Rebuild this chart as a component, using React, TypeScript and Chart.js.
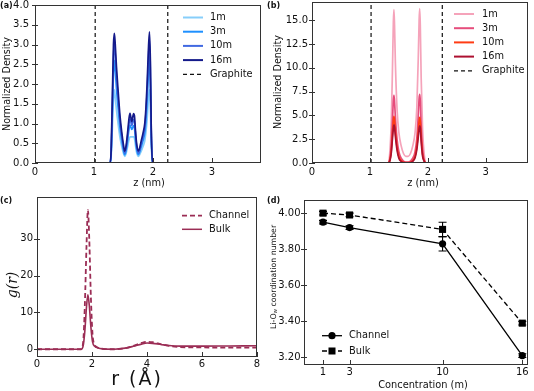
import React, { useEffect, useRef } from "react";
import { Chart, registerables } from "chart.js";

Chart.register(...registerables);

const FONT = "'DejaVu Sans', sans-serif";
const TXT = "#111";
const AXIS = "#333";

// ===== Panel (a): Li density across the channel (nm, normalized) =====
const zA = [0, 1.27, 1.29, 1.31, 1.33, 1.345, 1.36, 1.38, 1.41, 1.44, 1.47, 1.5, 1.52, 1.54, 1.57, 1.595, 1.61, 1.64, 1.67, 1.685, 1.7, 1.72, 1.75, 1.77, 1.8, 1.83, 1.86, 1.88, 1.9, 1.92, 1.94, 1.955, 1.97, 1.99, 3.3];
const a1m = [0, 0, 0.15, 0.85, 1.6, 1.85, 1.68, 1.35, 0.98, 0.65, 0.42, 0.24, 0.17, 0.22, 0.42, 0.6, 0.66, 0.66, 0.66, 0.63, 0.48, 0.28, 0.17, 0.2, 0.3, 0.42, 0.56, 0.78, 1.1, 1.55, 1.85, 1.45, 0.5, 0, 0];
const a3m = [0, 0, 0.22, 1.2, 2.3, 2.6, 2.35, 1.9, 1.38, 0.9, 0.58, 0.32, 0.21, 0.29, 0.58, 0.88, 0.96, 0.85, 0.95, 0.9, 0.66, 0.38, 0.21, 0.26, 0.41, 0.56, 0.76, 1.08, 1.55, 2.2, 2.62, 2.0, 0.7, 0, 0];
const a10m = [0, 0, 0.25, 1.4, 2.7, 3.05, 2.75, 2.2, 1.6, 1.05, 0.68, 0.38, 0.25, 0.34, 0.68, 1.02, 1.12, 0.95, 1.1, 1.06, 0.78, 0.45, 0.25, 0.3, 0.48, 0.65, 0.88, 1.25, 1.8, 2.55, 3.1, 2.4, 0.85, 0, 0];
const a16m = [0, 0, 0.3, 1.6, 3.0, 3.28, 3.0, 2.45, 1.8, 1.2, 0.78, 0.45, 0.3, 0.4, 0.78, 1.15, 1.26, 1.05, 1.25, 1.2, 0.88, 0.52, 0.3, 0.36, 0.56, 0.75, 1.0, 1.4, 2.0, 2.8, 3.32, 2.6, 0.9, 0, 0];
const concNames = ["1m", "3m", "10m", "16m"];
const colorsA = ["#87cefa", "#1e90ff", "#4169e1", "#141a8a"];

// ===== Panel (b) =====
const zB = [0, 1.31, 1.34, 1.37, 1.39, 1.405, 1.415, 1.425, 1.44, 1.47, 1.5, 1.54, 1.58, 1.62, 1.66, 1.7, 1.74, 1.78, 1.81, 1.835, 1.85, 1.86, 1.87, 1.885, 1.91, 1.94, 1.97, 3.3];
const b1m = [0, 0, 0.8, 4.5, 10, 14.8, 16.1, 14.5, 10.5, 5.5, 3.2, 1.8, 1.0, 0.7, 0.7, 1.0, 1.8, 3.2, 5.8, 11, 15, 16.2, 14.5, 9, 3.5, 0.8, 0, 0];
const b3m = [0, 0, 0.3, 2.0, 4.5, 6.6, 7.1, 6.5, 4.8, 2.4, 1.2, 0.5, 0.2, 0.1, 0.1, 0.2, 0.5, 1.2, 2.6, 5.0, 6.8, 7.2, 6.5, 4.0, 1.4, 0.3, 0, 0];
const b10m = [0, 0, 0.2, 1.4, 3.2, 4.5, 4.9, 4.5, 3.3, 1.6, 0.7, 0.25, 0.08, 0.03, 0.03, 0.08, 0.25, 0.7, 1.7, 3.3, 4.5, 4.8, 4.4, 2.8, 0.9, 0.2, 0, 0];
const b16m = [0, 0, 0.15, 1.1, 2.6, 3.6, 4.0, 3.8, 2.8, 1.3, 0.5, 0.15, 0.04, 0.02, 0.02, 0.05, 0.18, 0.55, 1.4, 2.7, 3.6, 3.9, 3.7, 2.3, 0.7, 0.15, 0, 0];
const colorsB = ["#f5a3ba", "#e64d7c", "#ff3c14", "#ad1030"];

const graphiteZ = [1.02, 2.25];
const zTicks = [0, 1, 2, 3];
const yTicksA = [0, 0.5, 1, 1.5, 2, 2.5, 3, 3.5, 4];
const yTicksB = [0, 2.5, 5, 7.5, 10, 12.5, 15];

// ===== Panel (c): g(r) =====
const rC = [0, 1.6, 1.68, 1.74, 1.8, 1.85, 1.9, 1.96, 2.02, 2.1, 2.2, 2.4, 2.8, 3.2, 3.5, 3.8, 4.0, 4.2, 4.5, 4.8, 5.2, 6, 7, 8];
const gChannel = [0, 0, 2, 12, 28, 37.8, 30, 14, 4, 1.2, 0.5, 0.1, 0, 0.3, 0.9, 1.7, 2.0, 1.9, 1.4, 0.9, 0.6, 0.5, 0.45, 0.45];
const gBulk = [0, 0, 1, 5, 11.5, 14.8, 12, 6, 2, 0.8, 0.4, 0.1, 0, 0.3, 0.8, 1.4, 1.7, 1.6, 1.3, 1.0, 0.85, 0.85, 0.9, 0.95];
const rTicks = [0, 2, 4, 6, 8];
const gTicks = [0, 10, 20, 30];
const colorC = "#9b2d55";

// ===== Panel (d): coordination number =====
const conc = [1, 3, 10, 16];
const cnChannel = [3.95, 3.92, 3.83, 3.21];
const cnChannelErr = [0.01, 0.01, 0.04, 0.01];
const cnBulk = [4.0, 3.99, 3.91, 3.39];
const cnBulkErr = [0.01, 0.01, 0.04, 0.01];
const cnTicks = [3.2, 3.4, 3.6, 3.8, 4.0];

const pts = (xs: number[], ys: number[]) => xs.map((x, i) => ({ x, y: ys[i] }));
const graphiteData = (y0: number, y1: number) =>
  graphiteZ.flatMap((z, i) => {
    const seg = [{ x: z, y: y0 }, { x: z, y: y1 }];
    return i ? [{ x: (graphiteZ[i - 1] + z) / 2, y: null as any }, ...seg] : seg;
  });

function txt(ctx: CanvasRenderingContext2D, s: string, x: number, y: number, font: string, rot = 0, align: CanvasTextAlign = "center", spacing = "0px") {
  ctx.save();
  ctx.translate(x, y);
  ctx.rotate(rot);
  ctx.font = font;
  (ctx as any).letterSpacing = spacing;
  ctx.fillStyle = TXT;
  ctx.textAlign = align;
  ctx.textBaseline = "middle";
  ctx.fillText(s, 0, 0);
  ctx.restore();
}

type Item = { label: string; color: string; dash?: number[]; width: number; marker?: string };
type Leg = { items: Item[]; x0: number; x1: number; tx: number; y0: number; dy: number };

function drawLegend(ctx: CanvasRenderingContext2D, L: Leg) {
  L.items.forEach((it, i) => {
    const y = L.y0 + i * L.dy;
    ctx.save();
    ctx.strokeStyle = it.color;
    ctx.lineWidth = it.width;
    ctx.setLineDash(it.dash || []);
    ctx.beginPath();
    ctx.moveTo(L.x0, y);
    ctx.lineTo(L.x1, y);
    ctx.stroke();
    ctx.setLineDash([]);
    const mx = (L.x0 + L.x1) / 2;
    ctx.fillStyle = it.color;
    if (it.marker === "circle") {
      ctx.beginPath();
      ctx.arc(mx, y, 3.6, 0, Math.PI * 2);
      ctx.fill();
    } else if (it.marker === "rect") {
      ctx.fillRect(mx - 3.5, y - 3.5, 7, 7);
    }
    ctx.restore();
    txt(ctx, it.label, L.tx, y, `9.8px ${FONT}`, 0, "left");
  });
}

type Spec = {
  id: string;
  left: number; top: number; W: number; H: number;
  area: { l: number; t: number; r: number; b: number };
  x: { min: number; max: number; ticks: number[]; fmt: (v: number) => string; pad: number };
  y: { min: number; max: number; ticks: number[]; fmt: (v: number) => string; pad: number };
  datasets: any[];
  legend: Leg;
  panel: string;
  titles: (ctx: CanvasRenderingContext2D) => void;
  errors?: { ds: number; vals: number[]; errs: number[] }[];
};

function decor(spec: Spec) {
  return {
    id: "decor" + spec.id,
    afterDatasetsDraw(chart: any) {
      if (!spec.errors) return;
      const { ctx, scales } = chart;
      const xs = scales.x, ys = scales.y;
      ctx.save();
      ctx.strokeStyle = "#000";
      ctx.lineWidth = 1.1;
      spec.errors.forEach((e) => {
        e.vals.forEach((v, i) => {
          const px = xs.getPixelForValue(conc[i]);
          const pt = ys.getPixelForValue(v + e.errs[i]);
          const pb = ys.getPixelForValue(v - e.errs[i]);
          ctx.beginPath();
          ctx.moveTo(px, pt); ctx.lineTo(px, pb);
          ctx.moveTo(px - 4, pt); ctx.lineTo(px + 4, pt);
          ctx.moveTo(px - 4, pb); ctx.lineTo(px + 4, pb);
          ctx.stroke();
        });
      });
      ctx.restore();
    },
    afterDraw(chart: any) {
      const { ctx, chartArea: a, scales } = chart;
      ctx.save();
      ctx.strokeStyle = AXIS;
      ctx.lineWidth = 1;
      ctx.strokeRect(Math.round(a.left) + 0.5, Math.round(a.top) + 0.5, Math.round(a.right - a.left) - 1, Math.round(a.bottom - a.top) - 1);
      ctx.beginPath();
      scales.x.ticks.forEach((t: any) => {
        const px = Math.round(scales.x.getPixelForValue(t.value)) + 0.5;
        ctx.moveTo(px, a.bottom);
        ctx.lineTo(px, a.bottom - 5);
      });
      scales.y.ticks.forEach((t: any) => {
        const py = Math.round(scales.y.getPixelForValue(t.value)) + 0.5;
        ctx.moveTo(a.left - 3, py);
        ctx.lineTo(a.left + 3, py);
      });
      ctx.stroke();
      ctx.restore();
      txt(ctx, spec.panel, 0, 6, `bold 8px ${FONT}`, 0, "left");
      spec.titles(ctx);
      drawLegend(ctx, spec.legend);
    },
  };
}

function buildConfig(spec: Spec): any {
  const { W, H, area: A } = spec;
  const tickFont = { family: FONT, size: 10 };
  return {
    type: "line",
    data: { datasets: spec.datasets },
    options: {
      responsive: false,
      animation: false,
      devicePixelRatio: 1,
      layout: { padding: { left: 0, top: A.t, right: W - A.r, bottom: 0 } },
      plugins: { legend: { display: false }, tooltip: { enabled: false }, title: { display: false } },
      elements: { point: { radius: 0 }, line: { borderWidth: 1.6 } },
      scales: {
        x: {
          type: "linear", min: spec.x.min, max: spec.x.max,
          grid: { display: false, drawTicks: false }, border: { display: false },
          ticks: { padding: spec.x.pad, font: tickFont, color: TXT, maxRotation: 0, autoSkip: false, callback: (v: any) => spec.x.fmt(Number(v)) },
          afterBuildTicks: (s: any) => { s.ticks = spec.x.ticks.map((v) => ({ value: v })); },
          afterFit: (s: any) => { s.height = H - A.b; s.paddingLeft = 0; s.paddingRight = 0; },
        },
        y: {
          type: "linear", min: spec.y.min, max: spec.y.max,
          grid: { display: false, drawTicks: false }, border: { display: false },
          ticks: { padding: spec.y.pad, font: tickFont, color: TXT, autoSkip: false, callback: (v: any) => spec.y.fmt(Number(v)) },
          afterBuildTicks: (s: any) => { s.ticks = spec.y.ticks.map((v) => ({ value: v })); },
          afterFit: (s: any) => { s.width = A.l; s.paddingTop = 0; s.paddingBottom = 0; },
        },
      },
    },
    plugins: [decor(spec)],
  };
}

const curve = (xs: number[], ys: number[], color: string, order: number, extra: any = {}) => ({
  data: pts(xs, ys), borderColor: color, backgroundColor: color, borderWidth: 1.7,
  cubicInterpolationMode: "monotone", pointRadius: 0, fill: false, order, ...extra,
});
const graphiteDs = (y0: number, y1: number) => ({
  data: graphiteData(y0, y1), borderColor: "#111", borderWidth: 1.2, borderDash: [4, 3], pointRadius: 0, spanGaps: false, order: 10,
});

const f0 = (v: number) => String(v);
const f1 = (v: number) => v.toFixed(1);
const f2 = (v: number) => v.toFixed(2);

const dens = [a1m, a3m, a10m, a16m];
const densB = [b1m, b3m, b10m, b16m];

const specA: Spec = {
  id: "a", left: 0, top: 0, W: 267, H: 195,
  area: { l: 35, t: 5, r: 261, b: 163 },
  x: { min: 0, max: 3.83, ticks: zTicks, fmt: f0, pad: 3.3 },
  y: { min: 0, max: 4, ticks: yTicksA, fmt: f1, pad: 6 },
  datasets: [graphiteDs(0, 4), ...dens.map((d, i) => curve(zA, d, colorsA[i], 4 - i))],
  legend: {
    items: [...concNames.map((n, i) => ({ label: n, color: colorsA[i], width: 2 })), { label: "Graphite", color: "#111", width: 1.2, dash: [4, 3] }],
    x0: 183, x1: 203, tx: 210, y0: 17.5, dy: 14.2,
  },
  panel: "(a)",
  titles: (ctx) => {
    txt(ctx, "Normalized Density", 7.5, 84, `9.6px ${FONT}`, -Math.PI / 2);
    txt(ctx, "z (nm)", 149, 183, `9.8px ${FONT}`);
  },
};

const specB: Spec = {
  id: "b", left: 267, top: 0, W: 267, H: 195,
  area: { l: 45, t: 2, r: 261, b: 163 },
  x: { min: 0, max: 3.73, ticks: zTicks, fmt: f0, pad: 3.3 },
  y: { min: 0, max: 16.9, ticks: yTicksB, fmt: f1, pad: 4 },
  datasets: [graphiteDs(0, 16.9), ...densB.map((d, i) => curve(zB, d, colorsB[i], 4 - i))],
  legend: {
    items: [...concNames.map((n, i) => ({ label: n, color: colorsB[i], width: 2 })), { label: "Graphite", color: "#111", width: 1.2, dash: [4, 3] }],
    x0: 187, x1: 207, tx: 215, y0: 14, dy: 14.2,
  },
  panel: "(b)",
  titles: (ctx) => {
    txt(ctx, "Normalized Density", 11.5, 82, `9.6px ${FONT}`, -Math.PI / 2);
    txt(ctx, "z (nm)", 156, 183, `9.8px ${FONT}`);
  },
};

const specC: Spec = {
  id: "c", left: 0, top: 195, W: 267, H: 196,
  area: { l: 37, t: 2, r: 257, b: 162 },
  x: { min: 0, max: 8, ticks: rTicks, fmt: f0, pad: 1 },
  y: { min: -2.1, max: 41.3, ticks: gTicks, fmt: f0, pad: 4 },
  datasets: [
    curve(rC, gChannel, colorC, 2, { borderDash: [5, 3], borderWidth: 1.8 }),
    curve(rC, gBulk, colorC, 1, { borderWidth: 1.6 }),
  ],
  legend: {
    items: [
      { label: "Channel", color: colorC, width: 1.7, dash: [5, 3] },
      { label: "Bulk", color: colorC, width: 1.5 },
    ],
    x0: 182, x1: 202, tx: 209, y0: 20.7, dy: 13.6,
  },
  panel: "(c)",
  titles: (ctx) => {
    txt(ctx, "g(r)", 13, 90, `italic 14px 'DejaVu Serif', serif`, -Math.PI / 2);
    txt(ctx, "r (Å)", 137, 185, `19px ${FONT}`, 0, "center", "2px");
  },
};

const specD: Spec = {
  id: "d", left: 267, top: 195, W: 267, H: 196,
  area: { l: 37, t: 4, r: 261, b: 170 },
  x: { min: -0.43, max: 16.43, ticks: conc, fmt: f0, pad: 1.5 },
  y: { min: 3.158, max: 4.073, ticks: cnTicks, fmt: f2, pad: 3.5 },
  datasets: [
    { data: pts(conc, cnChannel), borderColor: "#000", backgroundColor: "#000", borderWidth: 1.3, pointStyle: "circle", pointRadius: 3.6, pointBorderWidth: 0, order: 2 },
    { data: pts(conc, cnBulk), borderColor: "#000", backgroundColor: "#000", borderWidth: 1.3, borderDash: [5, 3], pointStyle: "rect", pointRadius: 5, pointBorderWidth: 0, order: 1 },
  ],
  errors: [
    { ds: 0, vals: cnChannel, errs: cnChannelErr },
    { ds: 1, vals: cnBulk, errs: cnBulkErr },
  ],
  legend: {
    items: [
      { label: "Channel", color: "#000", width: 1.3, marker: "circle" },
      { label: "Bulk", color: "#000", width: 1.3, dash: [5, 3], marker: "rect" },
    ],
    x0: 55, x1: 75, tx: 82, y0: 140.7, dy: 15.3,
  },
  panel: "(d)",
  titles: (ctx) => {
    // Li-O_w coordination number (rotated, with subscript)
    ctx.save();
    ctx.translate(6.5, 82);
    ctx.rotate(-Math.PI / 2);
    ctx.fillStyle = TXT;
    ctx.textBaseline = "middle";
    ctx.textAlign = "left";
    const big = `7.8px ${FONT}`, small = `5.5px ${FONT}`;
    ctx.font = big; const w1 = ctx.measureText("Li-O").width;
    const w3 = ctx.measureText(" coordination number").width;
    ctx.font = small; const w2 = ctx.measureText("w").width;
    let x = -(w1 + w2 + w3) / 2;
    ctx.font = big; ctx.fillText("Li-O", x, 0); x += w1;
    ctx.font = small; ctx.fillText("w", x, 2.2); x += w2;
    ctx.font = big; ctx.fillText(" coordination number", x, 0);
    ctx.restore();
    txt(ctx, "Concentration (m)", 156, 190, `9.8px ${FONT}`);
  },
};

function Panel({ spec }: { spec: Spec }) {
  const ref = useRef<HTMLCanvasElement>(null);
  useEffect(() => {
    const chart = new Chart(ref.current as HTMLCanvasElement, buildConfig(spec));
    return () => chart.destroy();
  }, [spec]);
  return (
    <canvas
      ref={ref}
      width={spec.W}
      height={spec.H}
      style={{ position: "absolute", left: spec.left, top: spec.top, width: spec.W, height: spec.H }}
    />
  );
}

export default function App() {
  return (
    <div style={{ position: "absolute", left: 0, top: 0, width: 534, height: 391, background: "#fff", overflow: "hidden" }}>
      {[specA, specB, specC, specD].map((s) => (
        <Panel key={s.id} spec={s} />
      ))}
    </div>
  );
}
